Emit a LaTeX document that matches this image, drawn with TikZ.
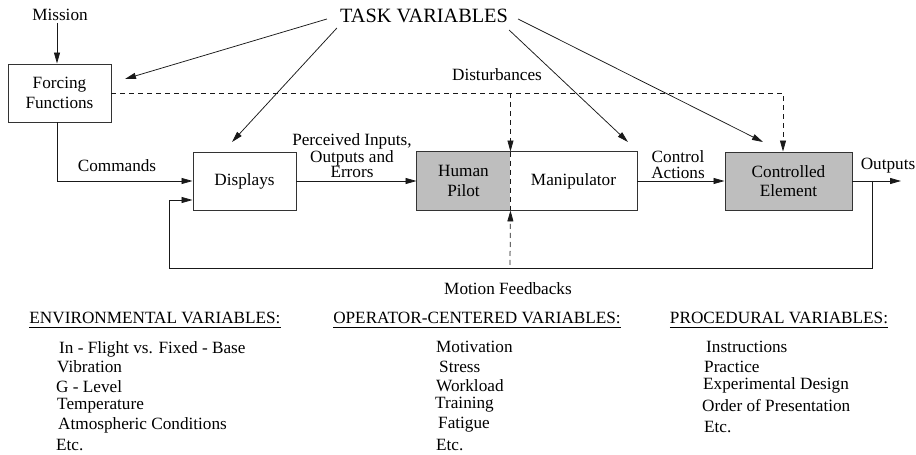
\documentclass[tikz,border=0pt]{standalone}
\usepackage{fontspec}
\setmainfont{Liberation Serif}
\usetikzlibrary{arrows.meta,calc}
\definecolor{boxgray}{RGB}{190,190,190}
\begin{document}
\begin{tikzpicture}[x=1pt,y=1pt,
  txt/.style={font=\fontsize{17.2}{19.5}\selectfont, inner sep=0pt, align=center},
  lbl/.style={font=\fontsize{17.2}{15.5}\selectfont, inner sep=0pt, align=center},
  itm/.style={font=\fontsize{17.2}{19.5}\selectfont, inner sep=0pt, anchor=base west},
  blk/.style={draw=black!80, line width=0.95pt, minimum height=58pt, align=center, font=\fontsize{17.2}{19.5}\selectfont, inner sep=0pt},
  greyfill/.style={fill=boxgray},
  arr/.style={-{Triangle[length=11pt,width=6pt]}},
  conn/.style={line width=0.75pt, draw=black!90},
  dsh/.style={dash pattern=on 5pt off 4pt},
]
\useasboundingbox (0,0) rectangle (916,455);

% title and top
\node[txt, font=\fontsize{20.3}{22}\selectfont] (task) at (424,439) {TASK VARIABLES};
\node[txt, inner sep=2pt] (mission) at (60,440) {Mission};

% blocks
\node[blk, minimum width=103pt] (ff) at (59.5,362) {Forcing\\Functions};
\node[blk, minimum width=103pt] (disp) at (244.5,274) {Displays};
\node[blk, draw=none, greyfill, minimum width=93pt] (human) at (463.5,274) {Human\\Pilot};
\node[blk, draw=none, minimum width=127pt] (manip) at (573.5,274) {Manipulator};
\draw[line width=0.95pt, draw=black!80] (human.north west) rectangle (manip.south east);
\node[blk, greyfill, minimum width=127pt] (ctrl) at (788.5,274) {Controlled\\Element};

% labels
\node[lbl] (cmd) at (117,289) {Commands};
\node[lbl] (perc) at (352,299) {Perceived Inputs,\\Outputs and\\Errors};
\node[lbl] (ca) at (678,290.5) {Control\\Actions};
\node[lbl] (outl) at (888,289) {Outputs};
\node[lbl] (dist) at (497,380) {Disturbances};
\node[lbl] (mfbl) at (508,166) {Motion Feedbacks};

% coordinates
\coordinate (out) at (901,274);
\coordinate (tap) at (872,274);
\coordinate (fbl) at (169,187);
\coordinate (mfb) at (510,190);
\coordinate (e1) at (125,376);
\coordinate (e2) at (232,313);
\coordinate (e3) at (628,313);
\coordinate (e4) at (763,313);

% solid connectors
\draw[conn,arr] ([xshift=-3]mission.south) -- ([xshift=-3]mission.south |- ff.north);
\draw[conn,arr] ([xshift=-2.5]ff.south) |- (disp.west);
\draw[conn,arr] (disp.east) -- (human.west);
\draw[conn,arr] (manip.east) -- (ctrl.west);
\draw[conn,arr] (ctrl.east) -- (out);
\draw[conn,arr] (tap) |- (fbl) |- ([yshift=-19]disp.west);

% dashed disturbances
\draw[conn,dsh,arr] (ff.east) -| ([xshift=-5.5]ctrl.north);
\draw[conn,dsh,arr] (human.north east |- ff.east) -- (human.north east);
\draw[conn,dsh] (human.north east) -- (human.south east);
\draw[conn,dsh,arr] (mfb) -- (human.south east);

% task variable arrows
\draw[conn,arr] ([shift={(-13,-3)}]task.west) -- (e1);
\draw[conn,arr] ([shift={(-3,-12)}]task.west) -- (e2);
\draw[conn,arr] ([shift={(1,-14)}]task.east) -- (e3);
\draw[conn,arr] ([shift={(10,-3)}]task.east) -- (e4);

% headings
\node[txt, anchor=base] (henv) at (155,131) {ENVIRONMENTAL VARIABLES:};
\node[txt, anchor=base] (hop) at (477,131) {OPERATOR-CENTERED VARIABLES:};
\node[txt, anchor=base] (hpr) at (779,131) {PROCEDURAL VARIABLES:};
\foreach \h in {henv,hop,hpr}
  \draw[line width=0.9pt] ([yshift=-3.5]\h.base west) -- ([yshift=-3.5]\h.base east);

% lists
\foreach \x/\y/\t [count=\i] in {59/101.5/In - Flight vs. Fixed - Base, 57/82.5/Vibration, 56/62.5/G - Level, 57/45.5/Temperature, 58/25.5/Atmospheric Conditions, 56/4.5/Etc.}
  \node[itm] (env\i) at (\x,\y) {\t};
\foreach \x/\y/\t [count=\i] in {436/102.5/Motivation, 439/82.5/Stress, 436/63.5/Workload, 435/46.5/Training, 438/26.5/Fatigue, 436/4.5/Etc.}
  \node[itm] (op\i) at (\x,\y) {\t};
\foreach \x/\y/\t [count=\i] in {706/102.5/Instructions, 704/82.5/Practice, 703/65.5/Experimental Design, 702/43.5/Order of Presentation, 704/22.5/Etc.}
  \node[itm] (pr\i) at (\x,\y) {\t};
\end{tikzpicture}
\end{document}
